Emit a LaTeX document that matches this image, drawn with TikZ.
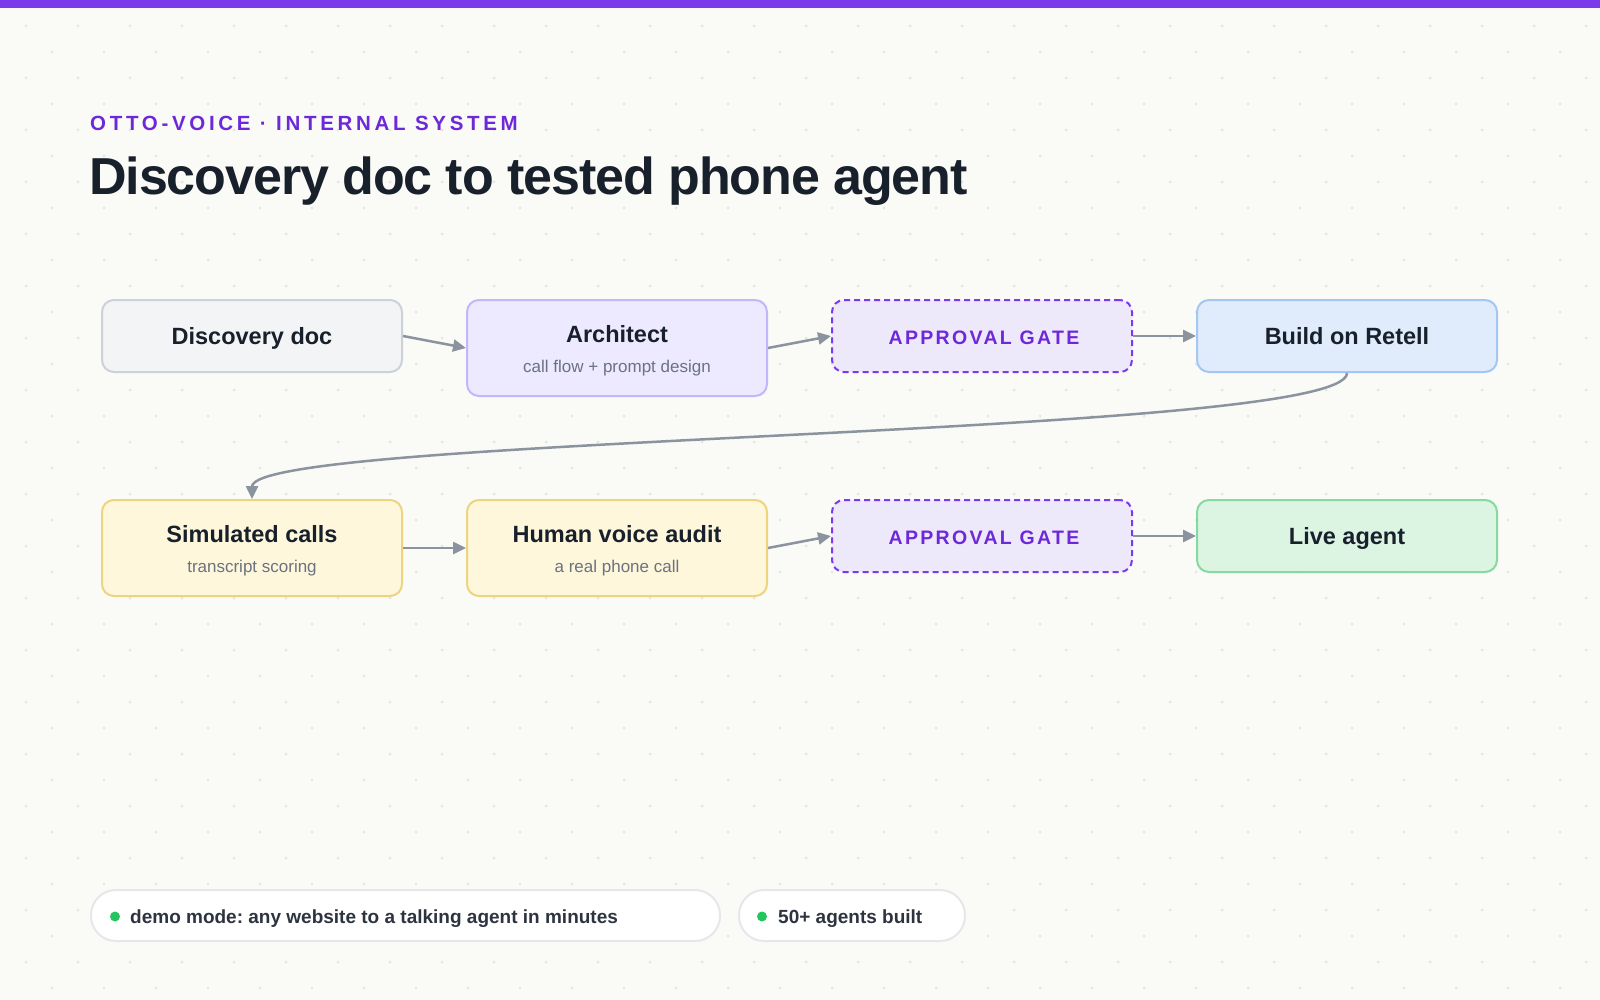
\documentclass[tikz,border=0pt]{standalone}
\usepackage{fontspec}
\setmainfont{Liberation Sans}
\newfontfamily\spacedfont[LetterSpace=18]{Liberation Sans}
\newfontfamily\gatefont[LetterSpace=12]{Liberation Sans}
\newfontfamily\tightfont[LetterSpace=-2.1]{Liberation Sans}
\usetikzlibrary{arrows.meta}
\definecolor{bg}{HTML}{FAFAF6}
\definecolor{barc}{HTML}{7C3AED}
\definecolor{dotc}{HTML}{E4E4E0}
\definecolor{ink}{HTML}{18202B}
\definecolor{subc}{HTML}{6B7280}
\definecolor{purp}{HTML}{6D28D9}
\definecolor{arrowc}{HTML}{8B939E}
\definecolor{grayfill}{HTML}{F3F4F6}
\definecolor{grayline}{HTML}{CDD1D8}
\definecolor{violfill}{HTML}{EDE9FE}
\definecolor{violline}{HTML}{C4B5FD}
\definecolor{gatefill}{HTML}{EEE8FB}
\definecolor{gateline}{HTML}{7C3AED}
\definecolor{bluefill}{HTML}{E0ECFB}
\definecolor{blueline}{HTML}{A3C7F5}
\definecolor{yelfill}{HTML}{FEF7DC}
\definecolor{yelline}{HTML}{EDD47E}
\definecolor{grnfill}{HTML}{DCF5E3}
\definecolor{grnline}{HTML}{86D9A0}
\definecolor{pillline}{HTML}{E5E7EB}
\definecolor{pilltext}{HTML}{2D3440}
\definecolor{dotgreen}{HTML}{22C55E}
\tikzset{
  box/.style={draw, rounded corners=12pt, line width=2pt, minimum width=300pt, inner sep=0pt},
  shortbox/.style={box, minimum height=72pt},
  tallbox/.style={box, minimum height=96pt},
  ttl/.style={anchor=base, inner sep=0pt, text=ink, font=\fontsize{23.5}{28}\selectfont\bfseries},
  subt/.style={anchor=base, inner sep=0pt, text=subc, font=\fontsize{17}{20}\selectfont},
  gatebox/.style={shortbox, draw=gateline, fill=gatefill, dash pattern=on 6pt off 4pt},
  gatetext/.style={anchor=base, inner sep=0pt, text=purp, font=\gatefont\fontsize{19.5}{23}\selectfont\bfseries},
  conn/.style={line width=2.5pt, draw=arrowc, -{Triangle[length=13pt,width=12pt]}},
  pill/.style={draw=pillline, fill=white, line width=2pt, rounded corners=25pt, minimum height=51pt, inner sep=0pt},
  pilltxt/.style={anchor=base west, inner sep=0pt, text=pilltext, font=\fontsize{19}{22}\selectfont\bfseries},
}
\begin{document}
\frenchspacing
\begin{tikzpicture}[x=1pt,y=-1pt]
\useasboundingbox (0,0) rectangle (1600,1000);
\fill[bg] (0,0) rectangle (1600,1000);
\foreach \i in {0,...,30} \foreach \j in {0,...,18} {
  \fill[dotc] (26+52*\i,26+52*\j) circle[radius=1.5pt];
  \fill[dotc] (52+52*\i,52+52*\j) circle[radius=1.5pt];
}
\fill[barc] (0,0) rectangle (1600,8);

% header
\node[anchor=base west, inner sep=0pt, text=purp, font=\spacedfont\fontsize{20.5}{24}\selectfont\bfseries] (kicker) at (90,131) {OTTO-VOICE · INTERNAL SYSTEM};
\node[anchor=base west, inner sep=0pt, text=ink, font=\tightfont\fontsize{52}{60}\selectfont\bfseries] (title) at (89,195) {Discovery doc to tested phone agent};

% row 1
\node[shortbox, draw=grayline, fill=grayfill] (disc) at (252,336) {};
\node[ttl] (disct) at (252,344.5) {Discovery doc};
\node[tallbox, draw=violline, fill=violfill] (arch) at (617,348) {};
\node[ttl] (archt) at (617,342) {Architect};
\node[subt] (archs) at (617,372) {call flow + prompt design};
\node[gatebox] (gate1) at (982,336) {};
\node[gatetext] (gate1t) at (984,344) {APPROVAL GATE};
\node[shortbox, draw=blueline, fill=bluefill] (build) at (1347,336) {};
\node[ttl] (buildt) at (1347,344.5) {Build on Retell};

% row 2
\node[tallbox, draw=yelline, fill=yelfill] (sim) at (252,548) {};
\node[ttl] (simt) at (252,542) {Simulated calls};
\node[subt] (sims) at (252,572) {transcript scoring};
\node[tallbox, draw=yelline, fill=yelfill] (audit) at (617,548) {};
\node[ttl] (auditt) at (617,542) {Human voice audit};
\node[subt] (audits) at (617,572) {a real phone call};
\node[gatebox] (gate2) at (982,536) {};
\node[gatetext] (gate2t) at (984,544) {APPROVAL GATE};
\node[shortbox, draw=grnline, fill=grnfill] (live) at (1347,536) {};
\node[ttl] (livet) at (1347,544.5) {Live agent};

% connectors
\draw[conn] (disc.east) -- (arch.west);
\draw[conn] (arch.east) -- (gate1.west);
\draw[conn] (gate1.east) -- (build.west);
\draw[conn] (build.south) .. controls +(0,64) and +(0,-64) .. (sim.north);
\draw[conn] (sim.east) -- (audit.west);
\draw[conn] (audit.east) -- (gate2.west);
\draw[conn] (gate2.east) -- (live.west);

% pills
\node[pill, minimum width=629pt] (pill1) at (405.5,915.5) {};
\fill[dotgreen] (115,916.5) circle[radius=5pt];
\node[pilltxt] (pill1t) at (130,923.5) {demo mode: any website to a talking agent in minutes};
\node[pill, minimum width=226pt] (pill2) at (852,915.5) {};
\fill[dotgreen] (762,916.5) circle[radius=5pt];
\node[pilltxt] (pill2t) at (778,923.5) {50+ agents built};
\end{tikzpicture}
\end{document}
